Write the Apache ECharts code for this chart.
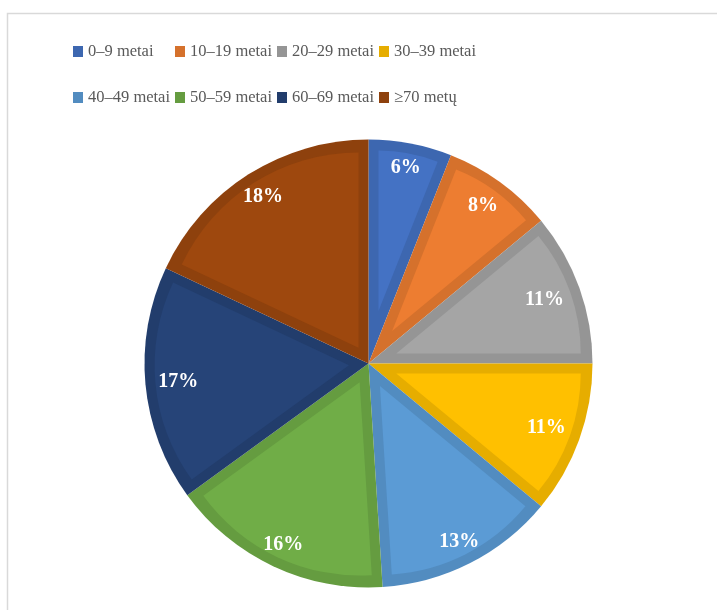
<!DOCTYPE html>
<html><head><meta charset="utf-8">
<script src="https://cdn.jsdelivr.net/npm/echarts@6/dist/echarts.min.js"></script>
<style>html,body{margin:0;padding:0;background:#fff}#c{width:717px;height:610px}</style>
</head><body><div id="c"></div>
<script>
// Data
const categories = ['0–9 metai', '10–19 metai', '20–29 metai', '30–39 metai', '40–49 metai', '50–59 metai', '60–69 metai', '≥70 metų'];
const shares = [6, 8, 11, 11, 13, 16, 17, 18];
const fillColors = ['#4472C4', '#ED7D31', '#A5A5A5', '#FFC000', '#5B9BD5', '#70AD47', '#264478', '#9E480E'];
const edgeColors = ['#3D67B0', '#D5712C', '#959595', '#E6AD00', '#528CC0', '#659C40', '#223D6C', '#8E410D'];

const chart = echarts.init(document.getElementById('c'), null, { renderer: 'canvas' });
const CX = 368.5, CY = 363.5, R = 224, INSET = 10;
const total = shares.reduce((a, b) => a + b, 0);
const serif = "'Liberation Serif', 'DejaVu Serif', serif";
// label distance from centre per slice (inside-end style placement)
const labelDist = [196, 192, 184, 186, 197, 197, 188, 194];

const series = [];
// dark base (edge colour) full pie
series.push({
  type: 'pie', silent: true, z: 1, center: [CX, CY], radius: [0, R], startAngle: 90, clockwise: true,
  label: { show: false }, labelLine: { show: false },
  data: categories.map((n, i) => ({ name: n, value: shares[i], itemStyle: { color: edgeColors[i] } }))
});
// inset lighter slices: each shifted along its bisector
categories.forEach((n, k) => {
  const half = Math.PI * shares[k] / total;
  const shift = INSET / Math.sin(half);
  series.push({
    type: 'pie', silent: true, z: 2, center: [CX, CY], radius: [0, R - INSET - shift], startAngle: 90, clockwise: true,
    selectedMode: 'multiple', selectedOffset: shift,
    label: { show: false }, labelLine: { show: false },
    data: categories.map((m, i) => i === k
      ? { name: m, value: shares[i], selected: true, itemStyle: { color: fillColors[i], borderWidth: 0 },
          select: { itemStyle: { color: fillColors[i], borderWidth: 0 } } }
      : { name: m, value: shares[i], itemStyle: { color: 'rgba(0,0,0,0)', borderWidth: 0 } })
  });
});
// labels, one transparent ring per slice so each label sits at its own distance
categories.forEach((n, k) => {
  const rk = labelDist[k];
  series.push({
    type: 'pie', silent: true, z: 5, center: [CX, CY], radius: [rk - 10, rk + 10], startAngle: 90, clockwise: true,
    itemStyle: { color: 'rgba(0,0,0,0)' },
    label: { position: 'inside', formatter: '{c}%', color: '#ffffff', fontFamily: serif, fontWeight: 'bold', fontSize: 20 },
    labelLine: { show: false },
    data: categories.map((m, i) => ({ name: m, value: shares[i], label: { show: i === k } }))
  });
});

const legends = categories.map((n, i) => ({
  left: 73 + 102 * (i % 4), top: i < 4 ? 43 : 89, padding: 0,
  icon: 'rect', itemWidth: 10, itemHeight: 11, selectedMode: false,
  textStyle: { fontFamily: serif, fontSize: 16.5, color: '#595959' },
  data: [n]
}));

chart.setOption({
  animation: false,
  backgroundColor: '#ffffff',
  graphic: [{ type: 'rect', shape: { x: 7.5, y: 13.5, width: 800, height: 700 }, style: { fill: 'none', stroke: '#d9d9d9', lineWidth: 1.5 }, silent: true, z: -10 }],
  legend: legends,
  series: series
});
</script>
</body></html>
